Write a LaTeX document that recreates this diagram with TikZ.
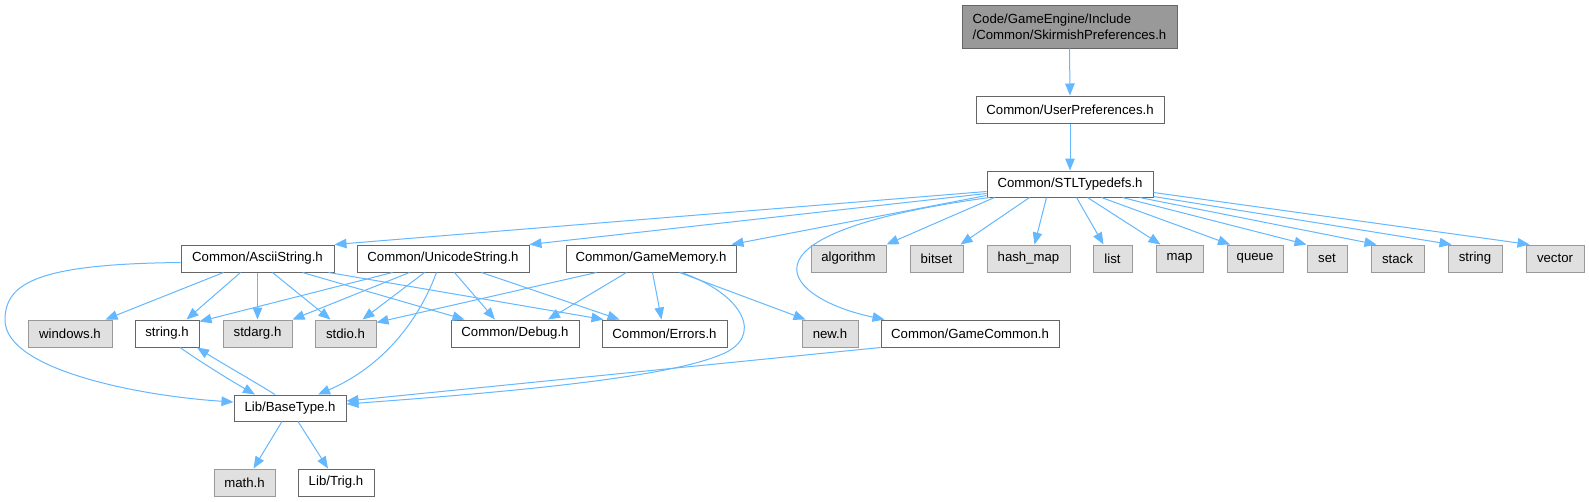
\documentclass[tikz,border=0pt]{standalone}
\usepackage{fontspec}
\setmainfont{Liberation Sans}
\usetikzlibrary{arrows.meta}
\definecolor{edgeblue}{HTML}{63B8FF}
\definecolor{boxborder}{HTML}{666666}
\definecolor{sysfill}{HTML}{E0E0E0}
\definecolor{sysborder}{HTML}{999999}
\definecolor{rootfill}{HTML}{999999}
\begin{document}
\begin{tikzpicture}[x=1pt,y=-1pt,
  every node/.style={font=\fontsize{13.2}{16}\selectfont, inner sep=0pt, line width=1pt},
  filebox/.style={draw=boxborder, fill=white, minimum height=27pt},
  sysbox/.style={draw=sysborder, fill=sysfill, minimum height=27pt},
  rootbox/.style={draw=boxborder, fill=rootfill, minimum height=43pt, align=left},
  dep/.style={draw=edgeblue, line width=1pt, -{Triangle[length=12pt,width=9.5pt]}}
]
\fill[white] (0,0) rectangle (1589,501);
\useasboundingbox (0,0) rectangle (1589,501);

% nodes
\node[rootbox, minimum width=215pt] (root) at (1069.5,26.5) {Code/GameEngine/Include\\/Common/SkirmishPreferences.h};
\node[filebox, minimum width=188pt] (userpref) at (1070,109.5) {Common/UserPreferences.h};
\node[filebox, minimum width=166pt, minimum height=26pt] (stl) at (1070,184) {Common/STLTypedefs.h};

\node[filebox, minimum width=153pt] (ascii) at (257.5,258.5) {Common/AsciiString.h};
\node[filebox, minimum width=172pt] (unicode) at (443,258.5) {Common/UnicodeString.h};
\node[filebox, minimum width=170pt] (gamemem) at (651,258.5) {Common/GameMemory.h};
\node[sysbox, minimum width=75pt] (algorithm) at (848.5,258.5) {algorithm};
\node[sysbox, minimum width=53pt] (bitset) at (936.5,258.5) {bitset};
\node[sysbox, minimum width=83pt] (hashmap) at (1028.5,258.5) {hash\_map};
\node[sysbox, minimum width=39pt] (list) at (1112.5,258.5) {list};
\node[sysbox, minimum width=47pt] (map) at (1179.5,258.5) {map};
\node[sysbox, minimum width=56pt] (queue) at (1255,258.5) {queue};
\node[sysbox, minimum width=40pt] (set) at (1327,258.5) {set};
\node[sysbox, minimum width=53pt] (stack) at (1397.5,258.5) {stack};
\node[sysbox, minimum width=54pt] (string) at (1475,258.5) {string};
\node[sysbox, minimum width=58pt] (vector) at (1555,258.5) {vector};

\node[sysbox, minimum width=84pt] (windows) at (70,333.5) {windows.h};
\node[filebox, minimum width=64pt] (stringh) at (167,333.5) {string.h};
\node[sysbox, minimum width=69pt] (stdarg) at (257.5,333.5) {stdarg.h};
\node[sysbox, minimum width=61pt] (stdio) at (345.5,333.5) {stdio.h};
\node[filebox, minimum width=128pt] (debug) at (515,333.5) {Common/Debug.h};
\node[filebox, minimum width=125pt] (errors) at (664.5,333.5) {Common/Errors.h};
\node[sysbox, minimum width=56pt] (newh) at (830,333.5) {new.h};
\node[filebox, minimum width=178pt] (gamecommon) at (970,333.5) {Common/GameCommon.h};

\node[filebox, minimum width=112pt, minimum height=26pt] (basetype) at (290,408) {Lib/BaseType.h};

\node[sysbox, minimum width=61pt] (math) at (244.5,482.5) {math.h};
\node[filebox, minimum width=76pt] (trig) at (336,482.5) {Lib/Trig.h};

% edges: top chain
\draw[dep] (root.south) -- (userpref.north);
\draw[dep] (userpref.south) -- (stl.north);

% edges from STLTypedefs
\draw[dep] ([yshift=6pt]stl.south west) -- (ascii.north east);
\draw[dep] ([yshift=4pt]stl.south west) -- (unicode.north east);
\draw[dep] ([yshift=2pt]stl.south west) -- ([xshift=-5pt]gamemem.north east);
\draw[dep] ([xshift=8pt]stl.south west) -- (algorithm.north east);
\draw[dep] ([xshift=3pt]stl.south west) .. controls (715,235) and (790,300) .. ([xshift=4pt]gamecommon.north west);
\draw[dep] ([xshift=43pt]stl.south west) -- ([xshift=-3pt]bitset.north east);
\draw[dep] ([xshift=60pt]stl.south west) -- ([xshift=6pt]hashmap.north);
\draw[dep] ([xshift=90pt]stl.south west) -- ([xshift=-9pt]list.north);
\draw[dep] ([xshift=101pt]stl.south west) -- ([xshift=-19pt]map.north);
\draw[dep] ([xshift=115pt]stl.south west) -- ([xshift=-25pt]queue.north);
\draw[dep] ([xshift=136pt]stl.south west) -- (set.north west);
\draw[dep] ([xshift=153pt]stl.south west) -- ([xshift=6pt]stack.north west);
\draw[dep] ([yshift=1pt]stl.south east) -- ([xshift=4pt]string.north west);
\draw[dep] ([yshift=5pt]stl.south east) -- ([xshift=4pt]vector.north west);

% edges from AsciiString
\draw[dep] ([xshift=43pt]ascii.south west) -- ([xshift=-7pt]windows.north east);
\draw[dep] ([xshift=60pt]ascii.south west) -- ([xshift=-13pt]stringh.north east);
\draw[dep] (ascii.south) -- (stdarg.north);
\draw[dep] ([xshift=92pt]ascii.south west) -- ([xshift=-15pt]stdio.north);
\draw[dep] ([xshift=122pt]ascii.south west) -- ([xshift=14pt]debug.north west);
\draw[dep] ([xshift=148pt]ascii.south west) -- ([xshift=2pt]errors.north west);
\draw[dep] ([yshift=-4pt]ascii.west) .. controls (40,264) and (5,282) .. (5,320)
  .. controls (5,370) and (140,396) .. ([yshift=6pt]basetype.west);

% edges from UnicodeString
\draw[dep] ([xshift=36pt]unicode.south west) -- ([yshift=-2pt]stringh.north east);
\draw[dep] ([xshift=53pt]unicode.south west) -- (stdarg.north east);
\draw[dep] ([xshift=68pt]unicode.south west) -- ([xshift=17pt]stdio.north);
\draw[dep] ([xshift=80pt]unicode.south west) .. controls (415,330) and (375,370) .. ([xshift=28pt]basetype.north);
\draw[dep] ([xshift=98pt]unicode.south west) -- ([xshift=-20pt]debug.north);
\draw[dep] ([xshift=125pt]unicode.south west) -- ([xshift=18pt]errors.north west);

% edges from GameMemory
\draw[dep] ([xshift=31pt]gamemem.south west) -- ([yshift=-3pt]stdio.north east);
\draw[dep] ([xshift=61pt]gamemem.south west) -- ([xshift=33pt]debug.north);
\draw[dep] ([xshift=87pt]gamemem.south west) -- ([xshift=-3pt]errors.north);
\draw[dep] ([xshift=114pt]gamemem.south west) -- ([xshift=4pt]newh.north west);
\draw[dep] ([xshift=116pt]gamemem.south west) .. controls (745,295) and (765,338) .. (720,355)
  .. controls (660,380) and (480,394) .. ([yshift=4pt]basetype.east);

% GameCommon
\draw[dep] (gamecommon.south west) -- ([yshift=7pt]basetype.east);

% string.h <-> BaseType
\draw[dep] ([xshift=13pt]stringh.south) .. controls (205,365) and (235,383) .. ([xshift=-35pt]basetype.north);
\draw[dep] ([xshift=-15pt]basetype.north) .. controls (255,382) and (220,362) .. ([xshift=30pt]stringh.south);

% BaseType
\draw[dep] ([xshift=-8pt]basetype.south) -- ([xshift=9pt]math.north);
\draw[dep] ([xshift=8pt]basetype.south) -- ([xshift=-8pt]trig.north);
\end{tikzpicture}
\end{document}
